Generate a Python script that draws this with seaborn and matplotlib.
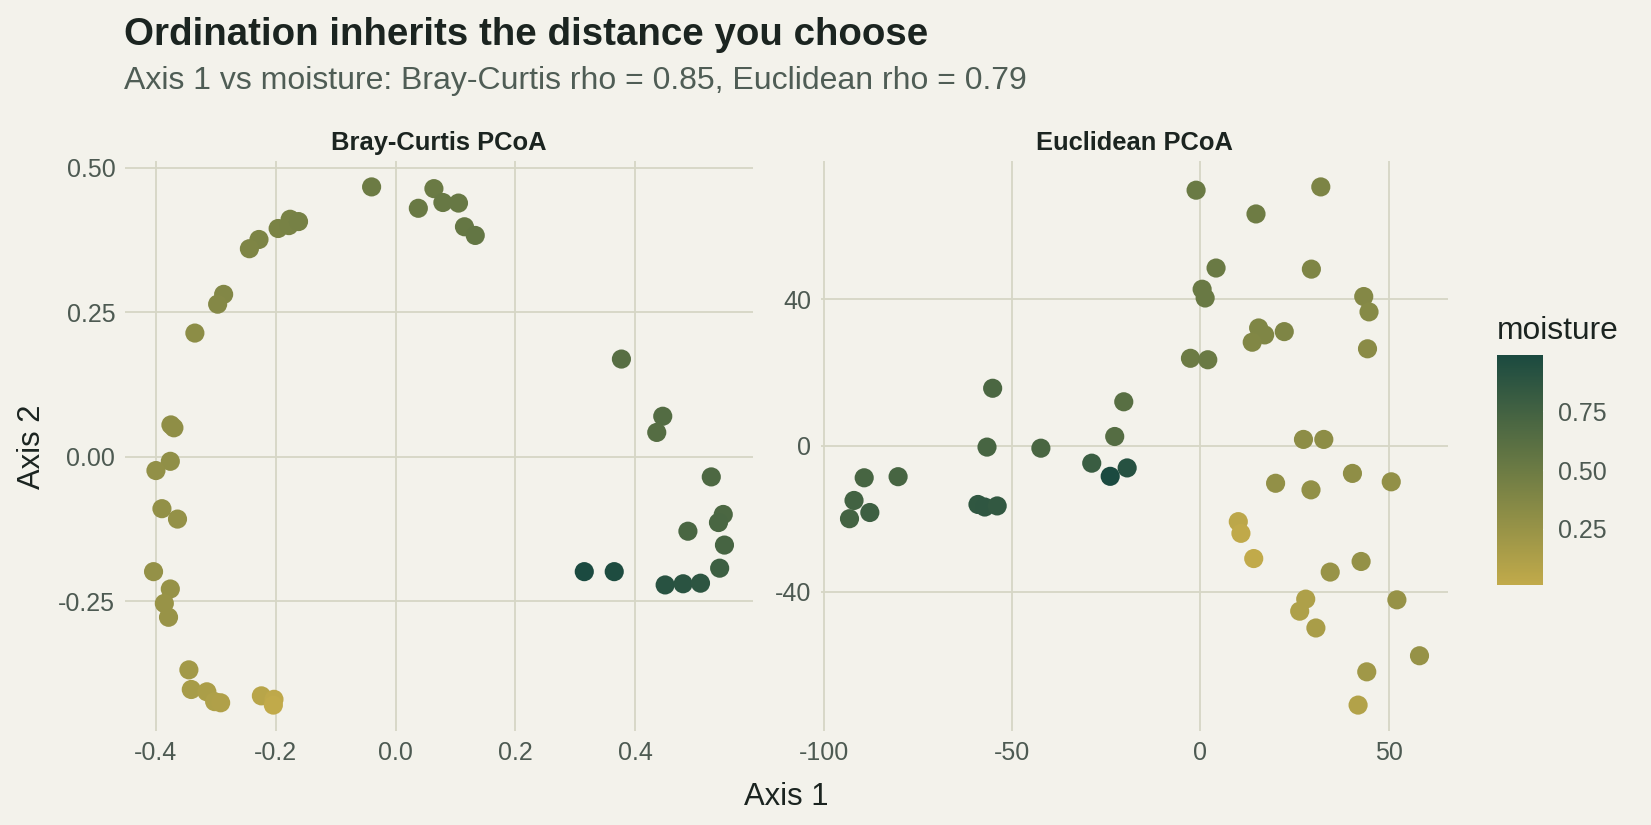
# Two PCoA ordinations side by side, coloured by moisture

import pandas as pd
import matplotlib.pyplot as plt
import matplotlib.colors as mcolors
import matplotlib.cm as cm
import seaborn as sns

# Bray-Curtis PCoA scores
bc_axis1 = [-0.040, 0.038, 0.064, 0.079, 0.105, 0.115, 0.133,
            -0.196, -0.176, -0.178, -0.162, -0.228, -0.244, -0.287, -0.297, -0.335,
            0.377, 0.446, 0.436, 0.527, 0.547, 0.539, 0.488, 0.549, 0.541,
            0.315, 0.365, 0.450, 0.480, 0.509,
            -0.375, -0.370, -0.376, -0.400, -0.390, -0.364, -0.404, -0.376, -0.386, -0.379,
            -0.345, -0.341, -0.315, -0.302, -0.292, -0.224, -0.203, -0.204]
bc_axis2 = [0.467, 0.430, 0.464, 0.440, 0.439, 0.398, 0.383,
            0.395, 0.411, 0.400, 0.407, 0.376, 0.360, 0.281, 0.264, 0.214,
            0.169, 0.070, 0.042, -0.035, -0.100, -0.114, -0.129, -0.153, -0.193,
            -0.199, -0.199, -0.222, -0.220, -0.219,
            0.055, 0.050, -0.008, -0.024, -0.090, -0.108, -0.199, -0.229, -0.254, -0.278,
            -0.369, -0.403, -0.407, -0.424, -0.426, -0.414, -0.420, -0.430]
bc_moisture = [0.50, 0.52, 0.51, 0.53, 0.53, 0.54, 0.55,
               0.42, 0.43, 0.43, 0.44, 0.41, 0.40, 0.37, 0.36, 0.32,
               0.63, 0.65, 0.64, 0.69, 0.70, 0.71, 0.71, 0.73, 0.78,
               0.99, 0.97, 0.91, 0.90, 0.88,
               0.30, 0.30, 0.29, 0.28, 0.28, 0.27, 0.27, 0.26, 0.25, 0.25,
               0.19, 0.16, 0.14, 0.12, 0.11, 0.06, 0.03, 0.01]

# Euclidean PCoA scores
eu_axis1 = [-1.1, 32.0, 14.8, 4.2, 29.5, 0.5, 1.3, 43.4, 44.8, 15.5, 17.1, 13.8, 22.3, 44.4,
            -2.6, 2.0, -55.1, -20.3, -22.7, -56.6, -42.3, 27.4, 32.8, -28.8, -19.4, -23.9,
            -89.2, -80.2, -91.9, -87.7, -93.1, -59.0, -57.2, -53.9, 20.0, 29.4, 40.4, 50.7,
            10.1, 10.8, 14.2, 42.7, 34.5, 52.2, 58.2, 28.0, 26.4, 30.7, 44.2, 41.9]
eu_axis2 = [69.9, 70.8, 63.4, 48.6, 48.3, 42.8, 40.4, 40.8, 36.6, 32.2, 30.3, 28.3, 31.2, 26.5,
            23.9, 23.5, 15.7, 12.0, 2.5, -0.4, -0.7, 1.7, 1.7, -4.8, -6.1, -8.4,
            -8.8, -8.5, -15.0, -18.3, -20.0, -16.1, -16.8, -16.5, -10.3, -12.1, -7.6, -9.9,
            -20.8, -24.0, -30.9, -31.7, -34.6, -42.2, -57.5, -42.0, -45.3, -49.9, -61.9, -71.0]
eu_moisture = [0.51, 0.41, 0.49, 0.51, 0.40, 0.52, 0.52, 0.36, 0.35, 0.39, 0.39, 0.38, 0.40, 0.33,
               0.50, 0.51, 0.70, 0.62, 0.64, 0.72, 0.71, 0.31, 0.31, 0.80, 0.92, 0.99,
               0.72, 0.72, 0.75, 0.78, 0.74, 0.86, 0.87, 0.85, 0.28, 0.28, 0.30, 0.28,
               0.04, 0.02, 0.01, 0.27, 0.25, 0.26, 0.26, 0.12, 0.12, 0.15, 0.20, 0.10]

bc_xticks = [-0.4, -0.2, 0.0, 0.2, 0.4]
bc_xlabels = ["-0.4", "-0.2", "0.0", "0.2", "0.4"]
bc_yticks = [-0.25, 0.0, 0.25, 0.50]
bc_ylabels = ["-0.25", "0.00", "0.25", "0.50"]
eu_xticks = [-100, -50, 0, 50]
eu_xlabels = ["-100", "-50", "0", "50"]
eu_yticks = [-40, 0, 40]
eu_ylabels = ["-40", "0", "40"]
cbar_ticks = [0.25, 0.50, 0.75]

bc = pd.DataFrame({"axis1": bc_axis1, "axis2": bc_axis2, "moisture": bc_moisture})
eu = pd.DataFrame({"axis1": eu_axis1, "axis2": eu_axis2, "moisture": eu_moisture})

bg = "#F3F2EB"
grid_col = "#D6D6C5"
tick_col = "#4D5A52"
dark = "#1B2420"

sns.set_style("white")
plt.rcParams['font.family'] = ['Liberation Sans', 'DejaVu Sans']

cmap = mcolors.LinearSegmentedColormap.from_list("moist", ["#C1AA4A", "#6C7B44", "#1B4A40"])
all_m = bc_moisture + eu_moisture
norm = mcolors.Normalize(vmin=min(all_m), vmax=max(all_m))

W, H = 1651, 825
fig = plt.figure(figsize=(W / 100, H / 100), dpi=100, facecolor=bg)

def px_box(x0, y0, x1, y1):
    return [x0 / W, 1 - y1 / H, (x1 - x0) / W, (y1 - y0) / H]

ax1 = fig.add_axes(px_box(125, 161, 753, 731))
ax2 = fig.add_axes(px_box(821, 161, 1448, 731))

panels = [
    (ax1, bc, "Bray-Curtis PCoA", bc_xticks, bc_xlabels, bc_yticks, bc_ylabels),
    (ax2, eu, "Euclidean PCoA", eu_xticks, eu_xlabels, eu_yticks, eu_ylabels),
]
for ax, df, title, xt, xl, yt, yl in panels:
    ax.set_facecolor(bg)
    sns.scatterplot(data=df, x="axis1", y="axis2", hue="moisture", palette=cmap,
                    hue_norm=norm, s=190, linewidth=0, legend=False, ax=ax, zorder=3)
    ax.margins(x=0.05, y=0.05)
    ax.set_xticks(xt, xl)
    ax.set_yticks(yt, yl)
    ax.grid(True, color=grid_col, linewidth=1.3)
    ax.set_axisbelow(True)
    for sp in ax.spines.values():
        sp.set_visible(False)
    ax.tick_params(length=0, labelsize=18, labelcolor=tick_col, pad=7)
    ax.set_xlabel("")
    ax.set_ylabel("")
    ax.set_title(title, fontsize=18.4, fontweight="bold", color=dark, pad=8)

fig.text(124 / W, 1 - 45 / H, "Ordination inherits the distance you choose",
         fontsize=27.7, fontweight="bold", color=dark, va="baseline", ha="left")
fig.text(124 / W, 1 - 89 / H,
         "Axis 1 vs moisture: Bray-Curtis rho = 0.85, Euclidean rho = 0.79",
         fontsize=23, color="#4F5D55", va="baseline", ha="left")
fig.text(786.5 / W, 1 - 797 / H, "Axis 1", fontsize=22.3, color=dark, ha="center", va="center")
fig.text(32 / W, 1 - 447 / H, "Axis 2", fontsize=22.3, color=dark, ha="center", va="center",
         rotation=90)

# colour bar
cax = fig.add_axes(px_box(1497, 355, 1543, 585))
cb = fig.colorbar(cm.ScalarMappable(norm=norm, cmap=cmap), cax=cax, ticks=cbar_ticks)
cb.outline.set_visible(False)
cb.ax.set_yticklabels(["0.25", "0.50", "0.75"])
cb.ax.tick_params(direction="in", color="white", length=6.5, width=1,
                  left=True, right=True, labelsize=18, labelcolor=tick_col, pad=11)
fig.text(1497 / W, 1 - 339 / H, "moisture", fontsize=22.9, color=dark, va="baseline", ha="left")

fig.savefig("out.png", dpi=100, facecolor=bg)
